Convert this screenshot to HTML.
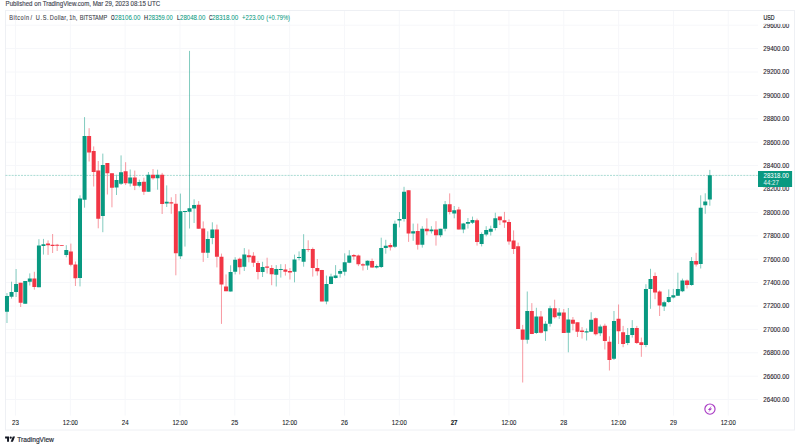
<!DOCTYPE html>
<html><head><meta charset="utf-8"><title>BTCUSD chart</title>
<style>html,body{margin:0;padding:0;background:#fff;width:800px;height:445px;overflow:hidden}</style>
</head><body>
<svg width="800" height="445" viewBox="0 0 800 445" style="display:block">
<rect x="0" y="0" width="800" height="445" fill="#ffffff"/>
<path d="M5 25.20H758M5 48.60H758M5 72.00H758M5 95.40H758M5 118.80H758M5 142.20H758M5 165.60H758M5 189.00H758M5 212.40H758M5 235.80H758M5 259.20H758M5 282.60H758M5 306.00H758M5 329.40H758M5 352.80H758M5 376.20H758M5 399.60H758M15.50 10V415.6M70.33 10V415.6M125.16 10V415.6M179.98 10V415.6M234.81 10V415.6M289.64 10V415.6M344.47 10V415.6M399.30 10V415.6M454.12 10V415.6M508.95 10V415.6M563.78 10V415.6M618.61 10V415.6M673.44 10V415.6M728.26 10V415.6" stroke="#f6f7fa" stroke-width="1" fill="none"/>
<rect x="5.5" y="10.5" width="789" height="419.5" fill="none" stroke="#eef0f4" stroke-width="1"/>
<path d="M5.5 175.4H758" stroke="#089981" stroke-opacity="0.5" stroke-width="0.7" stroke-dasharray="2 1.1" fill="none"/>
<path d="M6.97 293.00V323.00M11.54 281.70V298.60M16.10 269.00V297.00M25.23 281.00V303.80M29.79 273.40V285.50M38.92 239.20V287.20M43.48 238.90V254.60M66.30 245.20V257.30M80.00 195.30V286.40M84.56 117.10V207.70M102.82 153.60V232.20M116.51 174.70V195.00M121.07 155.40V185.00M130.20 169.50V186.50M139.33 179.60V187.30M148.46 172.00V191.70M157.58 169.70V189.70M166.71 185.40V207.00M180.40 193.60V259.00M184.97 210.90V246.60M189.53 50.90V228.50M194.10 199.30V223.00M207.79 231.30V258.00M212.35 222.30V244.20M230.61 265.30V291.60M235.17 257.20V274.40M244.30 248.10V271.00M262.56 261.80V277.00M276.25 265.10V286.50M280.81 264.20V277.60M294.50 254.60V282.30M299.07 251.40V260.40M303.63 234.20V266.70M326.45 275.60V304.30M331.02 273.70V284.20M335.58 265.10V278.50M340.14 269.00V277.60M344.71 253.30V275.60M349.27 250.20V263.20M367.53 260.40V269.90M376.66 264.50V268.50M381.22 237.70V268.00M385.78 239.80V253.70M394.91 220.60V247.90M399.48 212.00V227.40M404.04 186.80V221.60M413.17 223.60V240.80M422.30 226.20V247.60M431.42 226.20V233.50M440.55 228.80V237.20M445.12 201.00V231.30M454.24 206.00V218.30M463.37 222.90V233.20M467.94 218.00V228.60M472.50 216.60V224.00M481.63 232.40V246.40M486.19 226.20V236.30M490.76 225.70V235.50M495.32 212.70V230.40M527.27 291.50V343.70M536.40 307.80V333.90M545.52 321.20V340.90M550.09 305.70V326.60M559.22 308.10V318.90M568.34 308.00V352.30M586.60 328.40V340.50M591.16 312.20V331.70M600.29 324.60V336.10M613.98 311.00V360.00M627.68 328.00V345.10M632.24 320.10V337.60M645.93 284.20V347.20M650.50 268.80V308.80M664.19 300.70V311.00M668.75 289.40V302.90M673.32 288.90V298.40M677.88 272.70V296.00M682.44 278.60V292.10M691.57 257.10V285.80M700.70 195.30V268.50M705.26 193.30V213.80M709.83 169.90V205.70" stroke="#089981" stroke-opacity="0.5" stroke-width="1" fill="none"/>
<path d="M20.66 282.80V307.00M34.36 271.80V289.60M48.05 240.40V254.90M52.61 234.00V253.00M57.18 243.90V251.00M61.74 245.00V245.80M70.87 243.60V266.30M75.43 261.50V286.00M89.12 128.20V161.50M93.69 146.40V186.50M98.25 161.00V228.30M107.38 163.00V194.50M111.94 173.30V207.30M125.64 162.20V185.00M134.76 170.60V190.10M143.89 177.70V194.90M153.02 169.10V179.60M162.15 172.90V214.00M171.28 197.30V213.80M175.84 194.00V275.30M198.66 201.10V228.80M203.22 221.40V261.90M216.92 224.60V267.40M221.48 253.60V323.90M226.04 274.40V291.20M239.74 257.60V274.40M248.86 249.50V262.30M253.43 252.20V266.90M257.99 260.90V279.40M267.12 257.70V273.50M271.68 265.10V285.20M285.38 264.20V275.60M289.94 268.00V279.50M308.20 240.30V251.80M312.76 247.50V276.60M317.32 259.00V275.60M321.89 269.90V301.40M353.84 254.00V259.80M358.40 254.60V266.10M362.96 263.20V270.50M372.09 258.60V268.00M390.35 243.00V250.50M408.60 190.20V241.90M417.73 223.60V249.60M426.86 218.30V235.20M435.99 221.20V245.60M449.68 193.40V214.40M458.81 206.90V229.60M477.06 218.60V245.60M499.88 216.60V225.00M504.45 211.90V227.90M509.01 219.40V244.70M513.58 230.40V254.00M518.14 242.60V329.00M522.70 324.90V382.50M531.83 303.10V334.10M540.96 311.00V333.40M554.65 299.70V318.50M563.78 309.00V332.90M572.91 317.00V330.40M577.47 322.30V337.00M582.04 327.10V338.60M595.73 317.50V335.50M604.86 323.70V349.50M609.42 336.30V370.50M618.55 304.50V344.00M623.11 325.90V347.20M636.80 325.90V344.00M641.37 337.60V356.80M655.06 272.50V299.20M659.62 290.30V316.00M687.01 279.50V288.50M696.14 252.80V266.50" stroke="#f23645" stroke-opacity="0.5" stroke-width="1" fill="none"/>
<path d="M4.97 295.90h4v15.80h-4zM9.54 292.00h4v4.70h-4zM14.10 284.00h4v8.00h-4zM23.23 281.00h4v22.80h-4zM27.79 278.60h4v3.10h-4zM36.92 245.50h4v41.70h-4zM41.48 244.20h4v1.80h-4zM64.30 249.90h4v5.00h-4zM78.00 198.50h4v79.50h-4zM82.56 135.90h4v63.90h-4zM100.82 164.90h4v51.10h-4zM114.51 180.00h4v7.50h-4zM119.07 172.20h4v11.60h-4zM128.20 177.50h4v6.00h-4zM137.33 182.00h4v3.70h-4zM146.46 174.80h4v16.90h-4zM155.58 174.80h4v3.50h-4zM164.71 201.80h4v1.70h-4zM178.40 211.20h4v45.00h-4zM182.97 210.90h4v1.00h-4zM187.53 208.20h4v3.50h-4zM192.10 205.00h4v3.50h-4zM205.79 239.00h4v13.70h-4zM210.35 229.40h4v8.60h-4zM228.61 272.00h4v19.60h-4zM233.17 259.80h4v12.00h-4zM242.30 254.60h4v12.10h-4zM260.56 267.00h4v5.00h-4zM274.25 269.00h4v5.70h-4zM278.81 269.00h4v1.00h-4zM292.50 259.40h4v12.40h-4zM297.07 257.10h4v0.80h-4zM301.63 248.90h4v12.80h-4zM324.45 283.90h4v17.50h-4zM329.02 276.60h4v7.30h-4zM333.58 275.60h4v2.50h-4zM338.14 270.90h4v2.80h-4zM342.71 262.30h4v9.50h-4zM347.27 255.60h4v7.20h-4zM365.53 260.70h4v4.80h-4zM374.66 266.00h4v1.50h-4zM379.22 247.90h4v19.20h-4zM383.78 245.80h4v2.10h-4zM392.91 223.80h4v23.00h-4zM397.48 218.90h4v1.70h-4zM402.04 191.70h4v27.20h-4zM411.17 231.30h4v2.20h-4zM420.30 228.80h4v16.00h-4zM429.42 229.60h4v1.70h-4zM438.55 228.80h4v6.40h-4zM443.12 204.30h4v24.50h-4zM452.24 210.20h4v3.40h-4zM461.37 223.40h4v6.20h-4zM465.94 222.00h4v1.70h-4zM470.50 220.00h4v2.80h-4zM479.63 234.10h4v9.80h-4zM484.19 230.00h4v4.60h-4zM488.76 228.70h4v3.00h-4zM493.32 218.30h4v9.60h-4zM525.27 311.00h4v28.80h-4zM534.40 316.40h4v16.60h-4zM543.52 323.80h4v7.50h-4zM548.09 308.20h4v15.60h-4zM557.22 312.60h4v3.10h-4zM566.34 319.50h4v13.30h-4zM584.60 331.30h4v1.30h-4zM589.16 319.80h4v11.90h-4zM598.29 326.50h4v6.70h-4zM611.98 321.00h4v37.80h-4zM625.68 335.00h4v8.00h-4zM630.24 328.00h4v7.00h-4zM643.93 288.90h4v56.20h-4zM648.50 278.90h4v10.00h-4zM662.19 302.20h4v4.30h-4zM666.75 297.10h4v4.90h-4zM671.32 295.30h4v2.20h-4zM675.88 288.90h4v6.80h-4zM680.44 280.40h4v10.80h-4zM689.57 261.00h4v23.90h-4zM698.70 207.70h4v56.30h-4zM703.26 201.50h4v3.70h-4zM707.83 175.30h4v24.20h-4z" fill="#089981"/>
<path d="M18.66 282.80h4v20.00h-4zM32.36 278.60h4v8.40h-4zM46.05 243.60h4v1.60h-4zM50.61 244.70h4v1.30h-4zM55.18 244.70h4v1.10h-4zM59.74 245.00h4v0.80h-4zM68.87 251.50h4v13.20h-4zM73.43 264.40h4v13.90h-4zM87.12 135.90h4v16.50h-4zM91.69 151.00h4v21.00h-4zM96.25 170.60h4v48.20h-4zM105.38 163.00h4v10.30h-4zM109.94 173.30h4v14.50h-4zM123.64 171.20h4v12.00h-4zM132.76 177.50h4v8.20h-4zM141.89 181.70h4v10.00h-4zM151.02 174.80h4v3.50h-4zM160.15 174.80h4v29.10h-4zM169.28 202.20h4v1.20h-4zM173.84 203.80h4v49.50h-4zM196.66 204.80h4v24.00h-4zM201.22 228.40h4v24.30h-4zM214.92 229.40h4v27.30h-4zM219.48 256.80h4v27.70h-4zM224.04 286.50h4v4.70h-4zM237.74 258.80h4v8.50h-4zM246.86 255.20h4v2.00h-4zM251.43 255.80h4v6.90h-4zM255.99 262.90h4v9.10h-4zM265.12 266.60h4v1.20h-4zM269.68 268.00h4v6.30h-4zM283.38 269.50h4v2.30h-4zM287.94 270.90h4v1.50h-4zM306.20 248.90h4v0.90h-4zM310.76 248.90h4v19.10h-4zM315.32 268.00h4v3.20h-4zM319.89 269.90h4v31.50h-4zM351.84 255.00h4v1.50h-4zM356.40 255.60h4v8.60h-4zM360.96 264.20h4v1.30h-4zM370.09 261.10h4v6.40h-4zM388.35 245.10h4v2.20h-4zM406.60 190.20h4v43.20h-4zM415.73 231.00h4v13.80h-4zM424.86 228.80h4v2.50h-4zM433.99 229.60h4v5.60h-4zM447.68 204.30h4v7.60h-4zM456.81 209.40h4v20.20h-4zM475.06 220.30h4v21.60h-4zM497.88 216.60h4v3.70h-4zM502.45 220.30h4v2.20h-4zM507.01 222.00h4v19.40h-4zM511.58 240.50h4v8.40h-4zM516.14 246.20h4v82.80h-4zM520.70 329.60h4v10.20h-4zM529.83 311.00h4v23.10h-4zM538.96 316.60h4v16.20h-4zM552.65 308.20h4v9.00h-4zM561.78 312.60h4v20.30h-4zM570.91 319.80h4v3.90h-4zM575.47 322.30h4v9.40h-4zM580.04 330.40h4v1.50h-4zM593.73 318.30h4v15.90h-4zM602.86 325.70h4v15.20h-4zM607.42 341.80h4v18.20h-4zM616.55 318.80h4v12.40h-4zM621.11 332.30h4v11.70h-4zM634.80 328.00h4v15.00h-4zM639.37 342.30h4v2.80h-4zM653.06 276.00h4v16.50h-4zM657.62 291.50h4v13.90h-4zM685.01 280.40h4v4.50h-4zM694.14 261.00h4v3.50h-4z" fill="#f23645"/>
<g style="font-family:'Liberation Sans', sans-serif">
<text x="5.6" y="6.3" font-size="6.9" fill="#434651" stroke="#434651" stroke-width="0.14" text-anchor="start" font-weight="normal" textLength="154.6" lengthAdjust="spacingAndGlyphs">Published on TradingView.com, Mar 29, 2023 08:15 UTC</text>
<text transform="matrix(0.8 0 0 1 9.2 20.2)" x="0" y="0" font-size="7" fill="#3b3e48" stroke="#3b3e48" stroke-width="0.1" text-anchor="start" font-weight="normal" textLength="24.875" lengthAdjust="spacing">Bitcoin</text>
<text transform="matrix(0.8 0 0 1 30.55 20.2)" x="0" y="0" font-size="7" fill="#3b3e48" stroke="#3b3e48" stroke-width="0.1" text-anchor="start" font-weight="normal" textLength="3.812" lengthAdjust="spacing">/</text>
<text transform="matrix(0.8 0 0 1 35.8 20.2)" x="0" y="0" font-size="7" fill="#3b3e48" stroke="#3b3e48" stroke-width="0.1" text-anchor="start" font-weight="normal" textLength="16.0" lengthAdjust="spacing">U.S.</text>
<text transform="matrix(0.8 0 0 1 49.8 20.2)" x="0" y="0" font-size="7" fill="#3b3e48" stroke="#3b3e48" stroke-width="0.1" text-anchor="start" font-weight="normal" textLength="22.375" lengthAdjust="spacing">Dollar,</text>
<text transform="matrix(0.8 0 0 1 69.3 20.2)" x="0" y="0" font-size="7" fill="#3b3e48" stroke="#3b3e48" stroke-width="0.1" text-anchor="start" font-weight="normal" textLength="9.875" lengthAdjust="spacing">1h,</text>
<text transform="matrix(0.8 0 0 1 79.8 20.2)" x="0" y="0" font-size="7" fill="#3b3e48" stroke="#3b3e48" stroke-width="0.1" text-anchor="start" font-weight="normal" textLength="34.25" lengthAdjust="spacing">BITSTAMP</text>
<text x="111" y="20.2" font-size="7" fill="#2a2e39" stroke="#2a2e39" stroke-width="0.18" text-anchor="start" font-weight="normal" textLength="3.6" lengthAdjust="spacingAndGlyphs">O</text>
<text x="114.8" y="20.2" font-size="7" fill="#089981" stroke="#089981" stroke-width="0.05" text-anchor="start" font-weight="normal" textLength="25.5" lengthAdjust="spacingAndGlyphs">28106.00</text>
<text x="144" y="20.2" font-size="7" fill="#2a2e39" stroke="#2a2e39" stroke-width="0.18" text-anchor="start" font-weight="normal" textLength="4" lengthAdjust="spacingAndGlyphs">H</text>
<text x="148.5" y="20.2" font-size="7" fill="#089981" stroke="#089981" stroke-width="0.05" text-anchor="start" font-weight="normal" textLength="24.3" lengthAdjust="spacingAndGlyphs">28359.00</text>
<text x="177" y="20.2" font-size="7" fill="#2a2e39" stroke="#2a2e39" stroke-width="0.18" text-anchor="start" font-weight="normal" textLength="3" lengthAdjust="spacingAndGlyphs">L</text>
<text x="180" y="20.2" font-size="7" fill="#089981" stroke="#089981" stroke-width="0.05" text-anchor="start" font-weight="normal" textLength="25.4" lengthAdjust="spacingAndGlyphs">28048.00</text>
<text x="209" y="20.2" font-size="7" fill="#2a2e39" stroke="#2a2e39" stroke-width="0.18" text-anchor="start" font-weight="normal" textLength="3.3" lengthAdjust="spacingAndGlyphs">C</text>
<text x="212" y="20.2" font-size="7" fill="#089981" stroke="#089981" stroke-width="0.05" text-anchor="start" font-weight="normal" textLength="26.3" lengthAdjust="spacingAndGlyphs">28318.00</text>
<text x="242" y="20.2" font-size="7" fill="#089981" stroke="#089981" stroke-width="0.05" text-anchor="start" font-weight="normal" textLength="22" lengthAdjust="spacingAndGlyphs">+223.00</text>
<text x="266.3" y="20.2" font-size="7" fill="#089981" stroke="#089981" stroke-width="0.05" text-anchor="start" font-weight="normal" textLength="23.7" lengthAdjust="spacingAndGlyphs">(+0.79%)</text>
<text transform="matrix(0.85 0 0 1 763.3 27.6)" x="0" y="0" font-size="7.3" fill="#1f222b" stroke="#1f222b" stroke-width="0.12" text-anchor="start" font-weight="normal" textLength="30.353" lengthAdjust="spacing">29600.00</text>
<text transform="matrix(0.85 0 0 1 763.3 51.0)" x="0" y="0" font-size="7.3" fill="#1f222b" stroke="#1f222b" stroke-width="0.12" text-anchor="start" font-weight="normal" textLength="30.353" lengthAdjust="spacing">29400.00</text>
<text transform="matrix(0.85 0 0 1 763.3 74.4)" x="0" y="0" font-size="7.3" fill="#1f222b" stroke="#1f222b" stroke-width="0.12" text-anchor="start" font-weight="normal" textLength="30.353" lengthAdjust="spacing">29200.00</text>
<text transform="matrix(0.85 0 0 1 763.3 97.8)" x="0" y="0" font-size="7.3" fill="#1f222b" stroke="#1f222b" stroke-width="0.12" text-anchor="start" font-weight="normal" textLength="30.353" lengthAdjust="spacing">29000.00</text>
<text transform="matrix(0.85 0 0 1 763.3 121.2)" x="0" y="0" font-size="7.3" fill="#1f222b" stroke="#1f222b" stroke-width="0.12" text-anchor="start" font-weight="normal" textLength="30.353" lengthAdjust="spacing">28800.00</text>
<text transform="matrix(0.85 0 0 1 763.3 144.6)" x="0" y="0" font-size="7.3" fill="#1f222b" stroke="#1f222b" stroke-width="0.12" text-anchor="start" font-weight="normal" textLength="30.353" lengthAdjust="spacing">28600.00</text>
<text transform="matrix(0.85 0 0 1 763.3 168.0)" x="0" y="0" font-size="7.3" fill="#1f222b" stroke="#1f222b" stroke-width="0.12" text-anchor="start" font-weight="normal" textLength="30.353" lengthAdjust="spacing">28400.00</text>
<text transform="matrix(0.85 0 0 1 763.3 191.4)" x="0" y="0" font-size="7.3" fill="#1f222b" stroke="#1f222b" stroke-width="0.12" text-anchor="start" font-weight="normal" textLength="30.353" lengthAdjust="spacing">28200.00</text>
<text transform="matrix(0.85 0 0 1 763.3 214.8)" x="0" y="0" font-size="7.3" fill="#1f222b" stroke="#1f222b" stroke-width="0.12" text-anchor="start" font-weight="normal" textLength="30.353" lengthAdjust="spacing">28000.00</text>
<text transform="matrix(0.85 0 0 1 763.3 238.2)" x="0" y="0" font-size="7.3" fill="#1f222b" stroke="#1f222b" stroke-width="0.12" text-anchor="start" font-weight="normal" textLength="30.353" lengthAdjust="spacing">27800.00</text>
<text transform="matrix(0.85 0 0 1 763.3 261.6)" x="0" y="0" font-size="7.3" fill="#1f222b" stroke="#1f222b" stroke-width="0.12" text-anchor="start" font-weight="normal" textLength="30.353" lengthAdjust="spacing">27600.00</text>
<text transform="matrix(0.85 0 0 1 763.3 285.0)" x="0" y="0" font-size="7.3" fill="#1f222b" stroke="#1f222b" stroke-width="0.12" text-anchor="start" font-weight="normal" textLength="30.353" lengthAdjust="spacing">27400.00</text>
<text transform="matrix(0.85 0 0 1 763.3 308.4)" x="0" y="0" font-size="7.3" fill="#1f222b" stroke="#1f222b" stroke-width="0.12" text-anchor="start" font-weight="normal" textLength="30.353" lengthAdjust="spacing">27200.00</text>
<text transform="matrix(0.85 0 0 1 763.3 331.8)" x="0" y="0" font-size="7.3" fill="#1f222b" stroke="#1f222b" stroke-width="0.12" text-anchor="start" font-weight="normal" textLength="30.353" lengthAdjust="spacing">27000.00</text>
<text transform="matrix(0.85 0 0 1 763.3 355.2)" x="0" y="0" font-size="7.3" fill="#1f222b" stroke="#1f222b" stroke-width="0.12" text-anchor="start" font-weight="normal" textLength="30.353" lengthAdjust="spacing">26800.00</text>
<text transform="matrix(0.85 0 0 1 763.3 378.6)" x="0" y="0" font-size="7.3" fill="#1f222b" stroke="#1f222b" stroke-width="0.12" text-anchor="start" font-weight="normal" textLength="30.353" lengthAdjust="spacing">26600.00</text>
<text transform="matrix(0.85 0 0 1 763.3 402.0)" x="0" y="0" font-size="7.3" fill="#1f222b" stroke="#1f222b" stroke-width="0.12" text-anchor="start" font-weight="normal" textLength="30.353" lengthAdjust="spacing">26400.00</text>
<rect x="758" y="11" width="36" height="12.9" fill="#ffffff"/>
<text x="763.5" y="20.2" font-size="7" fill="#131722" stroke="#131722" stroke-width="0.18" text-anchor="start" font-weight="normal" textLength="11" lengthAdjust="spacingAndGlyphs">USD</text>
<rect x="758" y="171" width="34.1" height="16" fill="#089981"/>
<text x="763.5" y="177.7" font-size="7" fill="#ffffff" stroke="#ffffff" stroke-width="0.04" text-anchor="start" font-weight="normal" textLength="25.5" lengthAdjust="spacingAndGlyphs">28318.00</text>
<text x="763.5" y="184.8" font-size="7" fill="#e6f5f2" stroke="#e6f5f2" stroke-width="0.02" text-anchor="start" font-weight="normal" textLength="15.3" lengthAdjust="spacingAndGlyphs">44:27</text>
<text x="15.5" y="425.2" font-size="7.5" fill="#131722" stroke="#131722" stroke-width="0.08" text-anchor="middle" font-weight="normal" textLength="6.9" lengthAdjust="spacingAndGlyphs">23</text>
<text x="70.33" y="425.2" font-size="7.5" fill="#131722" stroke="#131722" stroke-width="0.08" text-anchor="middle" font-weight="normal" textLength="15" lengthAdjust="spacingAndGlyphs">12:00</text>
<text x="125.16" y="425.2" font-size="7.5" fill="#131722" stroke="#131722" stroke-width="0.08" text-anchor="middle" font-weight="normal" textLength="6.9" lengthAdjust="spacingAndGlyphs">24</text>
<text x="179.98" y="425.2" font-size="7.5" fill="#131722" stroke="#131722" stroke-width="0.08" text-anchor="middle" font-weight="normal" textLength="15" lengthAdjust="spacingAndGlyphs">12:00</text>
<text x="234.81" y="425.2" font-size="7.5" fill="#131722" stroke="#131722" stroke-width="0.08" text-anchor="middle" font-weight="normal" textLength="6.9" lengthAdjust="spacingAndGlyphs">25</text>
<text x="289.64" y="425.2" font-size="7.5" fill="#131722" stroke="#131722" stroke-width="0.08" text-anchor="middle" font-weight="normal" textLength="15" lengthAdjust="spacingAndGlyphs">12:00</text>
<text x="344.47" y="425.2" font-size="7.5" fill="#131722" stroke="#131722" stroke-width="0.08" text-anchor="middle" font-weight="normal" textLength="6.9" lengthAdjust="spacingAndGlyphs">26</text>
<text x="399.3" y="425.2" font-size="7.5" fill="#131722" stroke="#131722" stroke-width="0.08" text-anchor="middle" font-weight="normal" textLength="15" lengthAdjust="spacingAndGlyphs">12:00</text>
<text x="454.12" y="425.2" font-size="7.5" fill="#131722" stroke="#131722" stroke-width="0.1" text-anchor="middle" font-weight="bold" textLength="6.9" lengthAdjust="spacingAndGlyphs">27</text>
<text x="508.95" y="425.2" font-size="7.5" fill="#131722" stroke="#131722" stroke-width="0.08" text-anchor="middle" font-weight="normal" textLength="15" lengthAdjust="spacingAndGlyphs">12:00</text>
<text x="563.78" y="425.2" font-size="7.5" fill="#131722" stroke="#131722" stroke-width="0.08" text-anchor="middle" font-weight="normal" textLength="6.9" lengthAdjust="spacingAndGlyphs">28</text>
<text x="618.61" y="425.2" font-size="7.5" fill="#131722" stroke="#131722" stroke-width="0.08" text-anchor="middle" font-weight="normal" textLength="15" lengthAdjust="spacingAndGlyphs">12:00</text>
<text x="673.44" y="425.2" font-size="7.5" fill="#131722" stroke="#131722" stroke-width="0.08" text-anchor="middle" font-weight="normal" textLength="6.9" lengthAdjust="spacingAndGlyphs">29</text>
<text x="728.26" y="425.2" font-size="7.5" fill="#131722" stroke="#131722" stroke-width="0.08" text-anchor="middle" font-weight="normal" textLength="15" lengthAdjust="spacingAndGlyphs">12:00</text>
<g transform="translate(5.1 435.5) scale(0.28)" fill="#131722"><path d="M14 22H7V11H0V4h14v18zM28 22h-8l7.5-18h8L28 22z"/><circle cx="20" cy="8" r="4"/></g>
<text x="17.3" y="441.9" font-size="6.9" fill="#2a2e39" stroke="#2a2e39" stroke-width="0.18" text-anchor="start" font-weight="normal" textLength="36.6" lengthAdjust="spacingAndGlyphs">TradingView</text>
</g>
<circle cx="709.95" cy="409.1" r="5.1" fill="#ffffff" stroke="#a93bc4" stroke-width="1.15"/>
<path d="M711.9 405.5 L707.9 409.9 H709.8 L708.1 412.8 L712.1 408.4 H710.2 Z" fill="#a93bc4"/>
</svg>
</body></html>
